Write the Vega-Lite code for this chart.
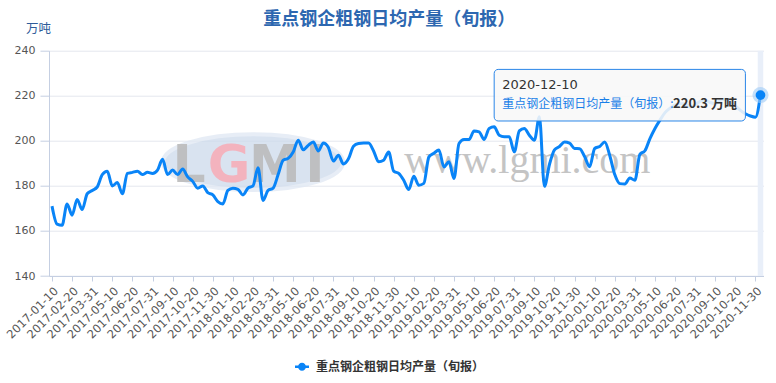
{
"$schema": "https://vega.github.io/schema/vega-lite/v6.json",
"width": 714.5, "height": 225.3, "autosize": "none",
"padding": {"left": 49, "top": 50.7, "right": 12.5, "bottom": 107},
"background": "#ffffff",
"config": {"view": {"stroke": null}, "font": "DejaVu Sans"},
"title": {"text": "重点钢企粗钢日均产量（旬报）", "font": "Noto Sans CJK SC", "fontSize": 18, "fontWeight": "bold", "color": "#2d67b0", "anchor": "middle", "frame": "group", "offset": -6, "dx": -17},
"datasets": {
"main": [
{"date":"2017-01-10","value":171},{"date":"2017-01-20","value":163},{"date":"2017-01-31","value":162.5},
{"date":"2017-02-10","value":172},{"date":"2017-02-20","value":167},{"date":"2017-02-28","value":174},
{"date":"2017-03-10","value":169.5},{"date":"2017-03-20","value":176.5},{"date":"2017-03-31","value":178},
{"date":"2017-04-10","value":179.5},{"date":"2017-04-20","value":185},{"date":"2017-04-30","value":186.5},
{"date":"2017-05-10","value":180},{"date":"2017-05-20","value":181.5},{"date":"2017-05-31","value":176.5},
{"date":"2017-06-10","value":185.5},{"date":"2017-06-20","value":186},{"date":"2017-06-30","value":186.5},
{"date":"2017-07-10","value":185},{"date":"2017-07-20","value":186},{"date":"2017-07-31","value":185.5},
{"date":"2017-08-10","value":187},{"date":"2017-08-20","value":191.8},{"date":"2017-08-31","value":185},
{"date":"2017-09-10","value":187},{"date":"2017-09-20","value":185},{"date":"2017-09-30","value":187.5},
{"date":"2017-10-10","value":184},{"date":"2017-10-20","value":182},{"date":"2017-10-31","value":179},
{"date":"2017-11-10","value":180},{"date":"2017-11-20","value":177},{"date":"2017-11-30","value":176},
{"date":"2017-12-10","value":173},{"date":"2017-12-20","value":172},{"date":"2017-12-31","value":178},
{"date":"2018-01-10","value":179},{"date":"2018-01-20","value":178.5},{"date":"2018-01-31","value":176},
{"date":"2018-02-10","value":179},{"date":"2018-02-20","value":180},{"date":"2018-02-28","value":188},
{"date":"2018-03-10","value":173.5},{"date":"2018-03-20","value":178},{"date":"2018-03-31","value":179},
{"date":"2018-04-10","value":185},{"date":"2018-04-20","value":191.4},{"date":"2018-04-30","value":192.2},
{"date":"2018-05-10","value":195},{"date":"2018-05-20","value":200.3},{"date":"2018-05-31","value":196},
{"date":"2018-06-10","value":198},{"date":"2018-06-20","value":199.5},{"date":"2018-06-30","value":195.5},
{"date":"2018-07-10","value":199},{"date":"2018-07-20","value":197},{"date":"2018-07-31","value":191},
{"date":"2018-08-10","value":193.6},{"date":"2018-08-20","value":189.7},{"date":"2018-08-31","value":192},
{"date":"2018-09-10","value":197.6},{"date":"2018-09-20","value":198.8},{"date":"2018-09-30","value":199},
{"date":"2018-10-10","value":199},{"date":"2018-10-20","value":195.5},{"date":"2018-10-31","value":190.7},
{"date":"2018-11-10","value":191.4},{"date":"2018-11-20","value":195},{"date":"2018-11-30","value":186.5},
{"date":"2018-12-10","value":185.5},{"date":"2018-12-20","value":182.5},{"date":"2018-12-31","value":178.4},
{"date":"2019-01-10","value":184.3},{"date":"2019-01-20","value":180.3},{"date":"2019-01-31","value":181.1},
{"date":"2019-02-10","value":192.9},{"date":"2019-02-20","value":194.5},{"date":"2019-02-28","value":195.9},
{"date":"2019-03-10","value":188.4},{"date":"2019-03-20","value":190.7},{"date":"2019-03-31","value":183.3},
{"date":"2019-04-10","value":198.8},{"date":"2019-04-20","value":200.6},{"date":"2019-04-30","value":200.6},
{"date":"2019-05-10","value":204.4},{"date":"2019-05-20","value":204},{"date":"2019-05-31","value":200.6},
{"date":"2019-06-10","value":205.5},{"date":"2019-06-20","value":206.2},{"date":"2019-06-30","value":202.5},
{"date":"2019-07-10","value":201.8},{"date":"2019-07-20","value":201.8},{"date":"2019-07-31","value":195.1},
{"date":"2019-08-10","value":204.4},{"date":"2019-08-20","value":205.5},{"date":"2019-08-31","value":202.5},
{"date":"2019-09-10","value":200.3},{"date":"2019-09-20","value":210.7},{"date":"2019-09-30","value":179.8},
{"date":"2019-10-10","value":189.5},{"date":"2019-10-20","value":196},{"date":"2019-10-31","value":197.5},
{"date":"2019-11-10","value":199.5},{"date":"2019-11-20","value":199},{"date":"2019-11-30","value":196.6},
{"date":"2019-12-10","value":196.5},{"date":"2019-12-20","value":193},{"date":"2019-12-31","value":188.5},
{"date":"2020-01-10","value":196.6},{"date":"2020-01-20","value":197.5},{"date":"2020-01-31","value":199.5},
{"date":"2020-02-10","value":193.5},{"date":"2020-02-20","value":185},{"date":"2020-02-29","value":181},
{"date":"2020-03-10","value":180.8},{"date":"2020-03-20","value":183.5},{"date":"2020-03-31","value":182.5},
{"date":"2020-04-10","value":194},{"date":"2020-04-20","value":195.6},{"date":"2020-04-30","value":201},
{"date":"2020-05-10","value":205.5},{"date":"2020-05-20","value":209.2},{"date":"2020-05-31","value":212.5},
{"date":"2020-06-10","value":214.5},{"date":"2020-06-20","value":216},{"date":"2020-06-30","value":216.5},
{"date":"2020-07-10","value":216.5},{"date":"2020-07-20","value":215},{"date":"2020-07-31","value":216},
{"date":"2020-08-10","value":217.5},{"date":"2020-08-20","value":218},{"date":"2020-08-31","value":217},
{"date":"2020-09-10","value":216.5},{"date":"2020-09-20","value":218},{"date":"2020-09-30","value":218.5},
{"date":"2020-10-10","value":217.5},{"date":"2020-10-20","value":215.5},{"date":"2020-10-31","value":213.5},
{"date":"2020-11-10","value":212},{"date":"2020-11-20","value":211},{"date":"2020-11-30","value":210.5},
{"date":"2020-12-10","value":220.3}
],
"notes": [
{"kind":"pointer","date":"2020-12-10","value":240,"value2":140},
{"kind":"ellipse","date":"2018-02-20","value":190.5},
{"kind":"logo","date":"2018-02-20","value":181.6},
{"kind":"www","date":"2019-08-31","value":185.6,"label":"www.lgmi.com"},
{"kind":"box","date":"2019-06-20","date2":"2020-11-10","value":231.7,"value2":208.8},
{"kind":"tipdate","date":"2019-06-20","value":224.8,"label":"2020-12-10"},
{"kind":"tipname","date":"2019-06-20","value":216.3,"label":"重点钢企粗钢日均产量（旬报）:"},
{"kind":"tipval","date":"2020-06-20","value":216.3,"label":"220.3 万吨"}
]
},
"encoding": {
"x": {"field": "date", "type": "ordinal", "scale": {"type": "point", "padding": 0.6},
"axis": {"values": ["2017-01-10","2017-02-20","2017-03-31","2017-05-10","2017-06-20","2017-07-31","2017-09-10","2017-10-20","2017-11-30","2018-01-10","2018-02-20","2018-03-31","2018-05-10","2018-06-20","2018-07-31","2018-09-10","2018-10-20","2018-11-30","2019-01-10","2019-02-20","2019-03-31","2019-05-10","2019-06-20","2019-07-31","2019-09-10","2019-10-20","2019-11-30","2020-01-10","2020-02-20","2020-03-31","2020-05-10","2020-06-20","2020-07-31","2020-09-10","2020-10-20","2020-11-30"],
"title": null, "labelAngle": -45, "labelFontSize": 11.5, "labelColor": "#555", "labelPadding": 4, "tickSize": 5, "tickColor": "#c5cfe2", "domainColor": "#c5cfe2", "labelOverlap": false, "labelBound": false, "labelFlush": false, "grid": false}},
"y": {"field": "value", "type": "quantitative", "scale": {"domain": [140, 240], "nice": false, "zero": false},
"axis": {"values": [140,160,180,200,220,240], "title": "万吨", "titleAngle": 0, "titleAlign": "center", "titleBaseline": "middle", "titleX": -11, "titleY": -22, "titleFont": "Noto Sans CJK SC", "titleFontSize": 12.5, "titleFontWeight": "normal", "titleColor": "#2f5c9a", "tickSize": 9, "tickColor": "#c5cfe2", "domainColor": "#c5cfe2", "gridColor": "#e4e7ee", "labelFontSize": 11, "labelColor": "#555", "labelPadding": 5}}
},
"layer": [
{"data": {"name": "notes"}, "transform": [{"filter": "datum.kind == 'pointer'"}],
 "mark": {"type": "rule", "color": "#e9eff9", "strokeWidth": 5.5}, "encoding": {"y2": {"field": "value2"}}},
{"data": {"name": "notes"}, "transform": [{"filter": "datum.kind == 'ellipse'"}],
 "mark": {"type": "point", "shape": "M-1,0A1,0.31 0 1,0 1,0A1,0.31 0 1,0 -1,0Z", "size": 32400, "filled": true, "fill": "#cddaec", "stroke": "#e0e8f3", "strokeWidth": 4, "opacity": 0.75}},
{"data": {"name": "notes"}, "transform": [{"filter": "datum.kind == 'logo'"}],
 "mark": {"type": "text", "text": "L", "font": "DejaVu Sans", "fontWeight": "bold", "fontSize": 52, "color": "#bcbcbc", "opacity": 0.9, "align": "center", "baseline": "alphabetic", "dx": -64}},
{"data": {"name": "notes"}, "transform": [{"filter": "datum.kind == 'logo'"}],
 "mark": {"type": "text", "text": "G", "font": "DejaVu Sans", "fontWeight": "bold", "fontSize": 52, "color": "#f3b3be", "align": "center", "baseline": "alphabetic", "dx": -24}},
{"data": {"name": "notes"}, "transform": [{"filter": "datum.kind == 'logo'"}],
 "mark": {"type": "text", "text": "M", "font": "DejaVu Sans", "fontWeight": "bold", "fontSize": 52, "color": "#bcbcbc", "opacity": 0.9, "align": "center", "baseline": "alphabetic", "dx": 22}},
{"data": {"name": "notes"}, "transform": [{"filter": "datum.kind == 'logo'"}],
 "mark": {"type": "text", "text": "I", "font": "DejaVu Sans", "fontWeight": "bold", "fontSize": 52, "color": "#bcbcbc", "opacity": 0.9, "align": "center", "baseline": "alphabetic", "dx": 62}},
{"data": {"name": "notes"}, "transform": [{"filter": "datum.kind == 'www'"}],
 "mark": {"type": "text", "font": "Liberation Serif", "fontSize": 40, "color": "#c4c4c4", "align": "center", "baseline": "alphabetic", "dx": -2},
 "encoding": {"text": {"field": "label"}}},
{"data": {"name": "main"},
 "mark": {"type": "line", "interpolate": "monotone", "strokeWidth": 3},
 "encoding": {
  "color": {"datum": "重点钢企粗钢日均产量（旬报）", "type": "nominal", "scale": {"range": ["#0984f7"]},
   "legend": {"orient": "none", "legendX": 246, "legendY": 309, "title": null, "labelFont": "Noto Sans CJK SC", "labelFontSize": 12, "labelFontWeight": "bold", "labelColor": "#333", "labelOffset": 7, "labelLimit": 400,
    "symbolType": "M-1,-0.18L1,-0.18L1,0.18L-1,0.18Z M0.57,0A0.57,0.57 0 1,1 -0.57,0A0.57,0.57 0 1,1 0.57,0Z", "symbolSize": 196, "symbolStrokeWidth": 0, "symbolFillColor": "#0984f7",
    "encode": {"symbols": {"update": {"fill": {"value": "#0984f7"}, "strokeWidth": {"value": 0}}}}}}
 }},
{"data": {"name": "notes"}, "transform": [{"filter": "datum.kind == 'box'"}],
 "mark": {"type": "rect", "fill": "#f8f8f8", "fillOpacity": 0.88, "stroke": "#2a86e8", "strokeWidth": 1, "cornerRadius": 4},
 "encoding": {"x2": {"field": "date2"}, "y2": {"field": "value2"}}},
{"data": {"name": "notes"}, "transform": [{"filter": "datum.kind == 'tipdate'"}],
 "mark": {"type": "text", "font": "DejaVu Sans", "fontSize": 13, "color": "#333", "align": "left", "baseline": "middle", "dx": 8},
 "encoding": {"text": {"field": "label"}}},
{"data": {"name": "notes"}, "transform": [{"filter": "datum.kind == 'tipname'"}],
 "mark": {"type": "text", "font": "Noto Sans CJK SC", "fontSize": 12, "color": "#1a7fe8", "align": "left", "baseline": "middle", "dx": 8},
 "encoding": {"text": {"field": "label"}}},
{"data": {"name": "notes"}, "transform": [{"filter": "datum.kind == 'tipval'"}],
 "mark": {"type": "text", "font": "Noto Sans CJK SC", "fontSize": 13, "fontWeight": "bold", "color": "#333", "align": "left", "baseline": "middle", "dx": -2},
 "encoding": {"text": {"field": "label"}}},
{"data": {"name": "main"}, "transform": [{"filter": "datum.date == '2020-12-10'"}],
 "mark": {"type": "point", "filled": true, "size": 260, "color": "#9fcbf7", "opacity": 0.6}},
{"data": {"name": "main"}, "transform": [{"filter": "datum.date == '2020-12-10'"}],
 "mark": {"type": "point", "filled": true, "size": 95, "color": "#0984f7", "opacity": 1}}
]
}
